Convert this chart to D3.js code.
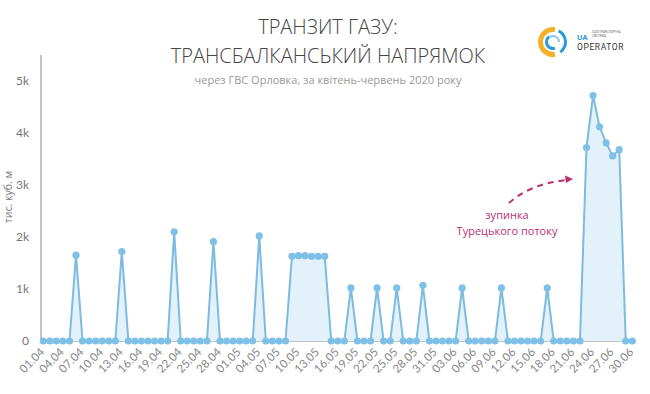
<!DOCTYPE html>
<html>
<head>
<meta charset="utf-8">
<script src="https://cdn.jsdelivr.net/npm/d3@7"></script>
<style>
  body { margin: 0; background: #fff; }
  svg { display: block; }
</style>
</head>
<body>
<div id="chart"></div>
<script>
// daily transit values, 01.04 .. 30.06.2020 (thousand cubic metres)
const values = [
  0, 0, 0, 0, 0, 1650, 0, 0, 0, 0, 0, 0, 1720, 0, 0, 0, 0, 0, 0, 0,
  2100, 0, 0, 0, 0, 0, 1910, 0, 0, 0, 0, 0, 0, 2020, 0, 0, 0, 0,
  1630, 1640, 1640, 1630, 1630, 1630, 0, 0, 0, 1020, 0, 0, 0, 1020, 0, 0,
  1020, 0, 0, 0, 1070, 0, 0, 0, 0, 0, 1020, 0, 0, 0, 0, 0, 1020, 0,
  0, 0, 0, 0, 0, 1020, 0, 0, 0, 0, 0, 3720, 4720, 4120, 3810, 3560, 3680, 0, 0
];

const tickLabels = [
  '01.04', '04.04', '07.04', '10.04', '13.04', '16.04', '19.04', '22.04', '25.04', '28.04',
  '01.05', '04.05', '07.05', '10.05', '13.05', '16.05', '19.05', '22.05', '25.05', '28.05', '31.05',
  '03.06', '06.06', '09.06', '12.06', '15.06', '18.06', '21.06', '24.06', '27.06', '30.06'
];

const yTicks = [0, 1000, 2000, 3000, 4000, 5000];

const width = 650;
const height = 394;

const svg = d3.select('#chart')
  .append('svg')
  .attr('width', width)
  .attr('height', height);

const x = d3.scaleLinear()
  .domain([0, values.length - 1])
  .range([43.3, 632.3]);

const y = d3.scaleLinear()
  .domain([0, 5500])
  .range([341, 55]);

// titles
svg.append('text')
  .attr('x', 328).attr('y', 34)
  .attr('text-anchor', 'middle')
  .style('font-family', 'Open Sans')
  .style('font-weight', 300)
  .style('font-size', '20px')
  .style('fill', '#444')
  .text('ТРАНЗИТ ГАЗУ:');

svg.append('text')
  .attr('x', 328).attr('y', 63)
  .attr('text-anchor', 'middle')
  .style('font-family', 'Open Sans')
  .style('font-weight', 300)
  .style('font-size', '20px')
  .style('fill', '#444')
  .text('ТРАНСБАЛКАНСЬКИЙ НАПРЯМОК');

svg.append('text')
  .attr('x', 328).attr('y', 84)
  .attr('text-anchor', 'middle')
  .style('font-family', 'Open Sans')
  .style('font-size', '11px')
  .style('fill', '#999')
  .text('через ГВС Орловка, за квітень-червень 2020 року');

// axes
svg.append('line')
  .attr('x1', 41).attr('x2', 41)
  .attr('y1', 55).attr('y2', y(0))
  .style('stroke', '#888')
  .style('stroke-width', 1);

svg.append('line')
  .attr('x1', 41).attr('x2', 636)
  .attr('y1', y(0)).attr('y2', y(0))
  .style('stroke', '#888')
  .style('stroke-width', 1);

svg.selectAll('.ytick')
  .data(yTicks)
  .join('text')
  .attr('class', 'ytick')
  .attr('x', 29)
  .attr('y', d => y(d))
  .attr('dy', '0.35em')
  .attr('text-anchor', 'end')
  .style('font-family', 'Lato')
  .style('font-size', '12px')
  .style('fill', '#777')
  .text(d => d === 0 ? '0' : d3.format('~s')(d));

svg.append('text')
  .attr('transform', 'translate(12,197) rotate(-90)')
  .attr('text-anchor', 'middle')
  .style('font-family', 'Open Sans')
  .style('font-size', '10.5px')
  .style('fill', '#777')
  .text('тис. куб. м');

svg.selectAll('.xtick')
  .data(tickLabels)
  .join('text')
  .attr('class', 'xtick')
  .attr('transform', (d, i) => `translate(${x(i * 3) - 1},350) rotate(-45)`)
  .attr('text-anchor', 'end')
  .attr('dy', '0.35em')
  .style('font-family', 'Lato')
  .style('font-size', '11.5px')
  .style('fill', '#888')
  .text(d => d);

// area + line
const area = d3.area()
  .x((d, i) => x(i))
  .y0(y(0))
  .y1(d => y(d));

const line = d3.line()
  .x((d, i) => x(i))
  .y(d => y(d));

svg.append('path')
  .datum(values)
  .attr('d', area)
  .style('fill', '#e2f1fa');

svg.append('path')
  .datum(values)
  .attr('d', line)
  .style('fill', 'none')
  .style('stroke', '#7dbbe0')
  .style('stroke-width', 2);

svg.selectAll('.dot')
  .data(values)
  .join('circle')
  .attr('class', 'dot')
  .attr('cx', (d, i) => x(i))
  .attr('cy', d => y(d))
  .attr('r', 3.6)
  .style('fill', '#7ec0e6');

// annotation
svg.append('path')
  .attr('d', 'M509,203 Q530,184 566,180')
  .style('fill', 'none')
  .style('stroke', '#b8316f')
  .style('stroke-width', 2)
  .style('stroke-dasharray', '6,5');

svg.append('path')
  .attr('d', 'M573,179 L565,175.5 L566,183 Z')
  .style('fill', '#b8316f');

svg.append('text')
  .attr('x', 507).attr('y', 219)
  .attr('text-anchor', 'middle')
  .style('font-family', 'Open Sans')
  .style('font-size', '11px')
  .style('fill', '#b8316f')
  .text('зупинка');

svg.append('text')
  .attr('x', 507).attr('y', 235)
  .attr('text-anchor', 'middle')
  .style('font-family', 'Open Sans')
  .style('font-size', '11px')
  .style('fill', '#b8316f')
  .text('Турецького потоку');

// logo
const logo = svg.append('g').attr('transform', 'translate(553,42)');
const arc = d3.arc();
logo.append('path')
  .attr('d', arc({ innerRadius: 10, outerRadius: 15, startAngle: -Math.PI * 1.05, endAngle: Math.PI * 0.05 }))
  .style('fill', '#f4b128');
logo.append('path')
  .attr('d', arc({ innerRadius: 11, outerRadius: 14, startAngle: Math.PI * 0.15, endAngle: Math.PI * 0.8 }))
  .style('fill', '#2a9bd8');
logo.append('path')
  .attr('d', arc({ innerRadius: 5, outerRadius: 8, startAngle: Math.PI * 0.9, endAngle: Math.PI * 1.8 }))
  .style('fill', '#2a9bd8');
logo.append('path')
  .attr('d', arc({ innerRadius: 5, outerRadius: 7, startAngle: -Math.PI * 0.2, endAngle: Math.PI * 0.5 }))
  .style('fill', '#8cc9ec');

svg.append('text')
  .attr('x', 577).attr('y', 40)
  .style('font-family', 'Roboto')
  .style('font-size', '8px')
  .style('font-weight', 700)
  .style('fill', '#2a9bd8')
  .text('UA');

svg.append('text')
  .attr('x', 592).attr('y', 33)
  .style('font-family', 'Roboto')
  .style('font-size', '3px')
  .style('fill', '#666')
  .text('ГАЗОТРАНСПОРТНА');
svg.append('text')
  .attr('x', 592).attr('y', 37)
  .style('font-family', 'Roboto')
  .style('font-size', '3px')
  .style('fill', '#666')
  .text('СИСТЕМА');

svg.append('text')
  .attr('x', 577).attr('y', 50)
  .style('font-family', 'Roboto')
  .style('font-size', '8.5px')
  .style('fill', '#333')
  .style('letter-spacing', '0.6px')
  .text('OPERATOR');
</script>
</body>
</html>
